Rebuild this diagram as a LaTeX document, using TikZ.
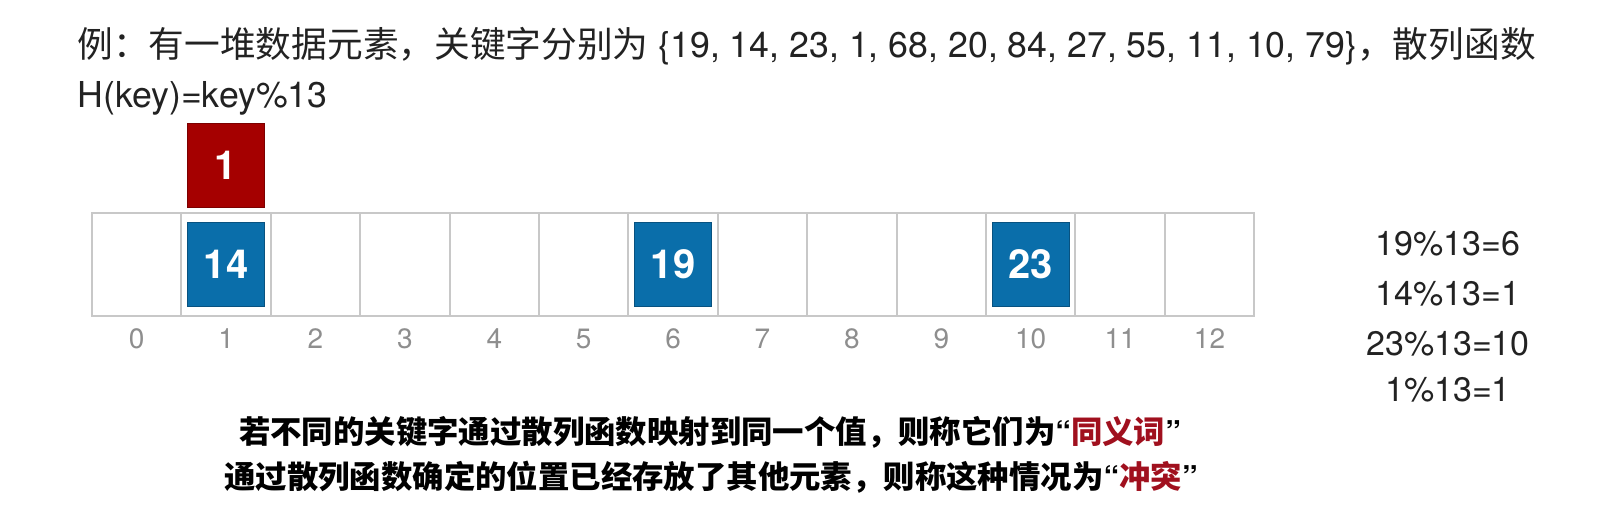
\documentclass[tikz,border=0pt]{standalone}
\usepackage{fontspec}
\setmainfont{TeX Gyre Heros}
\newfontfamily\cjk{Noto Sans CJK SC}
\usetikzlibrary{positioning}
\definecolor{keyblue}{HTML}{0A6EAA}
\definecolor{keyred}{HTML}{A50000}
\definecolor{cellgray}{HTML}{C8C8C8}
\definecolor{idxgray}{HTML}{8E8E8E}
\definecolor{txtgray}{HTML}{222222}
\definecolor{wordred}{HTML}{A0101E}
% narrow quotes for the notes
\newcommand\quoteon{{\rmfamily\bfseries “}}
\newcommand\quoteoff{{\rmfamily\bfseries ”}}
\tikzset{
    % Table cell
    cellbox/.style={
           draw=cellgray,
           line width=1pt,
           minimum width=44.7pt,
           minimum height=51.5pt,
           inner sep=0pt,
           outer sep=0pt,},
    % Key square
    keybox/.style={
           minimum width=38.5pt,
           minimum height=42pt,
           inner sep=0pt,
           outer sep=0pt,
           text=white,
           font=\fontsize{20}{24}\selectfont\bfseries,},
    bluekey/.style={keybox, fill=keyblue, draw=keyblue!75!black, line width=0.4pt},
    redkey/.style={keybox, fill=keyred, draw=keyred!75!black, line width=0.4pt},
    idxlabel/.style={text=idxgray, font=\fontsize{14}{16}\selectfont, inner sep=0pt},
    modline/.style={text=txtgray, font=\fontsize{17}{20}\selectfont, inner sep=0pt},
    titleline/.style={text=txtgray, font=\fontsize{17.85}{21}\selectfont, inner sep=0pt},
    noteline/.style={text=black, font=\fontsize{15.7}{19}\selectfont\cjk\bfseries, inner sep=0pt},
}

\begin{document}
\begin{tikzpicture}[x=0.5pt, y=-0.5pt]
\useasboundingbox (0,0) rectangle (1622,514);
%Title
\node[titleline, anchor=base west] (title1) at (77,57) {{\cjk 例：有一堆数据元素，关键字分别为} \{19, 14, 23, 1, 68, 20, 84, 27, 55, 11, 10, 79\}{\cjk ，散列函数}};
\node[titleline, anchor=base west] (title2) at (77,107) {H(key)=key\%13};

%Table
\foreach \i in {0,...,12} {
    \node[cellbox] (c\i) at ({136.7+89.4*\i},264.5) {};
    \node[idxlabel, anchor=base] (l\i) at ({136.7+89.4*\i},348) {\i};
}

%Keys
\node[bluekey] (k14) at (c1) {14};
\node[bluekey] (k19) at (c6) {19};
\node[bluekey] (k23) at (c10) {23};
\node[redkey, above=7.5pt of k14] (k1) {1};

%Hash values
\node[modline, anchor=base] (m19) at (1448,255) {19\%13=6};
\node[modline, anchor=base] (m14) at (1448,305) {14\%13=1};
\node[modline, anchor=base] (m23) at (1448,355) {23\%13=10};
\node[modline, anchor=base] (m1) at (1448,401) {1\%13=1};

%Notes
\node[noteline, anchor=base] (note1) at (710,443) {若不同的关键字通过散列函数映射到同一个值，则称它们为\quoteon\textcolor{wordred}{同义词}\quoteoff};
\node[noteline, anchor=base] (note2) at (711,488) {通过散列函数确定的位置已经存放了其他元素，则称这种情况为\quoteon\textcolor{wordred}{冲突}\quoteoff};

\end{tikzpicture}
\end{document}
